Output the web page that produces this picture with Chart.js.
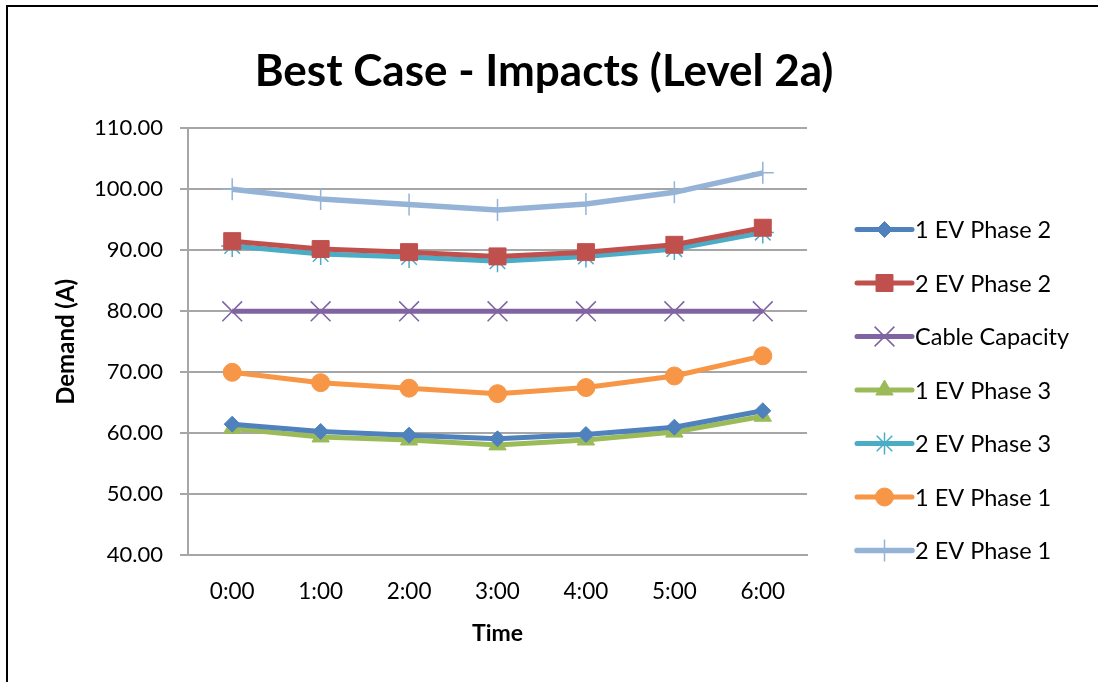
<!DOCTYPE html>
<html>
<head>
<meta charset="utf-8">
<title>Best Case - Impacts (Level 2a)</title>
<script src="https://cdn.jsdelivr.net/npm/chart.js@4/dist/chart.umd.min.js"></script>
<style>
  html, body { margin: 0; padding: 0; background: #ffffff; }
  #wrap { width: 1098px; height: 682px; position: relative; }
  canvas { display: block; }
</style>
</head>
<body>
<div id="wrap"><canvas id="chart" width="1098" height="682"></canvas></div>
<script>
// Hourly demand (A) per scenario
const times = ['0:00', '1:00', '2:00', '3:00', '4:00', '5:00', '6:00'];
const ev1Phase2 = [61.5, 60.3, 59.7, 59.1, 59.8, 61.0, 63.7];
const ev2Phase2 = [91.5, 90.2, 89.7, 89.0, 89.7, 90.9, 93.7];
const cableCapacity = [80, 80, 80, 80, 80, 80, 80];
const ev1Phase3 = [60.8, 59.4, 58.9, 58.1, 58.9, 60.2, 62.8];
const ev2Phase3 = [90.7, 89.4, 88.9, 88.2, 89.0, 90.2, 92.9];
const ev1Phase1 = [70.0, 68.3, 67.4, 66.5, 67.5, 69.4, 72.7];
const ev2Phase1 = [100.0, 98.4, 97.5, 96.6, 97.6, 99.5, 102.7];
const yTicks = { min: 40, max: 110, step: 10 };

const FONT = "Lato, 'Open Sans', sans-serif";

function series(label, data, color, style, radius, lineW, pointBorder) {
  return {
    label, data,
    borderColor: color,
    backgroundColor: color,
    borderWidth: lineW,
    pointStyle: style,
    pointRadius: radius,
    pointHoverRadius: radius,
    pointBackgroundColor: color,
    pointBorderColor: color,
    pointBorderWidth: pointBorder,
    tension: 0,
    fill: false,
    yAxisID: 'y'
  };
}

const datasets = [
  series('1 EV Phase 2', ev1Phase2, '#4f81bd', 'rectRot', 8, 5, 1),
  series('2 EV Phase 2', ev2Phase2, '#c0504d', 'rect', 12, 5, 1),
  series('Cable Capacity', cableCapacity, '#8064a2', 'crossRot', 14, 5, 1.5),
  series('1 EV Phase 3', ev1Phase3, '#9bbb59', 'triangle', 10, 5, 1),
  series('2 EV Phase 3', ev2Phase3, '#4bacc6', 'star', 11, 5, 1.5),
  series('1 EV Phase 1', ev1Phase1, '#f79646', 'circle', 9, 5, 1),
  series('2 EV Phase 1', ev2Phase1, '#95b3d7', 'cross', 11, 5.5, 1.5)
];

// Frame around the chart object
const framePlugin = {
  id: 'frame',
  beforeDraw(chart) {
    const ctx = chart.ctx;
    ctx.save();
    ctx.strokeStyle = '#000000';
    ctx.lineWidth = 2;
    ctx.beginPath();
    ctx.moveTo(7, chart.height + 2);
    ctx.lineTo(7, 6);
    ctx.lineTo(chart.width + 2, 6);
    ctx.stroke();
    ctx.restore();
  }
};

// Legend: line sample with its marker, then the series name
const lineLegendPlugin = {
  id: 'lineLegend',
  afterDraw(chart) {
    const ctx = chart.ctx;
    const x0 = 857, x1 = 912, textX = 915;
    const yStart = 229.5, gap = 53.5;
    ctx.save();
    chart.data.datasets.forEach((ds, i) => {
      const y = yStart + i * gap;
      ctx.strokeStyle = ds.borderColor;
      ctx.lineWidth = ds.borderWidth;
      ctx.lineCap = 'round';
      ctx.beginPath();
      ctx.moveTo(x0, y);
      ctx.lineTo(x1, y);
      ctx.stroke();
      ctx.fillStyle = ds.pointBackgroundColor;
      ctx.strokeStyle = ds.pointBorderColor;
      ctx.lineWidth = ds.pointBorderWidth;
      ctx.lineCap = 'butt';
      Chart.helpers.drawPoint(ctx, {
        pointStyle: ds.pointStyle,
        radius: ds.pointRadius,
        rotation: 0,
        borderWidth: ds.pointBorderWidth
      }, (x0 + x1) / 2, y);
      ctx.fillStyle = '#000000';
      ctx.font = "23.5px " + FONT;
      ctx.textBaseline = 'middle';
      ctx.textAlign = 'left';
      ctx.fillText(ds.label, textX, y + 1);
    });
    ctx.restore();
  }
};

new Chart(document.getElementById('chart'), {
  type: 'line',
  data: { labels: times, datasets },
  options: {
    responsive: false,
    animation: false,
    layout: { padding: { left: 0, right: 10, top: 0, bottom: 0 } },
    plugins: {
      legend: { display: false },
      tooltip: { enabled: false },
      title: {
        display: true,
        text: 'Best Case - Impacts (Level 2a)',
        color: '#000000',
        font: { family: FONT, size: 44, weight: 'bold' },
        padding: { top: 45, bottom: 30.5 }
      }
    },
    scales: {
      x: {
        type: 'category',
        offset: true,
        grid: { display: false, drawTicks: false, tickLength: 0 },
        border: { display: true, color: '#a6a6a6', width: 2 },
        ticks: {
          color: '#000000',
          font: { family: FONT, size: 22.5 },
          padding: 23,
          maxRotation: 0
        },
        title: {
          display: true,
          text: 'Time',
          color: '#000000',
          font: { family: FONT, size: 23, weight: 'bold' },
          padding: { top: 0, bottom: 35 }
        },
        afterFit(scale) { scale.height = 126.7; }
      },
      y: {
        min: yTicks.min,
        max: yTicks.max,
        grid: { color: '#a6a6a6', lineWidth: 2, tickLength: 8, drawTicks: true },
        border: { display: true, color: '#a6a6a6', width: 2 },
        ticks: {
          stepSize: yTicks.step,
          color: '#000000',
          font: { family: FONT, size: 22 },
          padding: 17,
          callback: v => Number(v).toFixed(2)
        },
        title: {
          display: true,
          text: 'Demand (A)',
          color: '#000000',
          font: { family: FONT, size: 24, weight: 'bold' },
          padding: { top: 52, bottom: 0 }
        },
        afterFit(scale) { scale.width = 188; }
      },
      // empty right-hand axis that reserves the legend column
      legendSpace: {
        position: 'right',
        display: true,
        grid: { display: false, drawTicks: false, drawOnChartArea: false },
        border: { display: false },
        ticks: { display: false },
        afterFit(scale) { scale.width = 281; }
      }
    }
  },
  plugins: [framePlugin, lineLegendPlugin]
});
</script>
</body>
</html>
